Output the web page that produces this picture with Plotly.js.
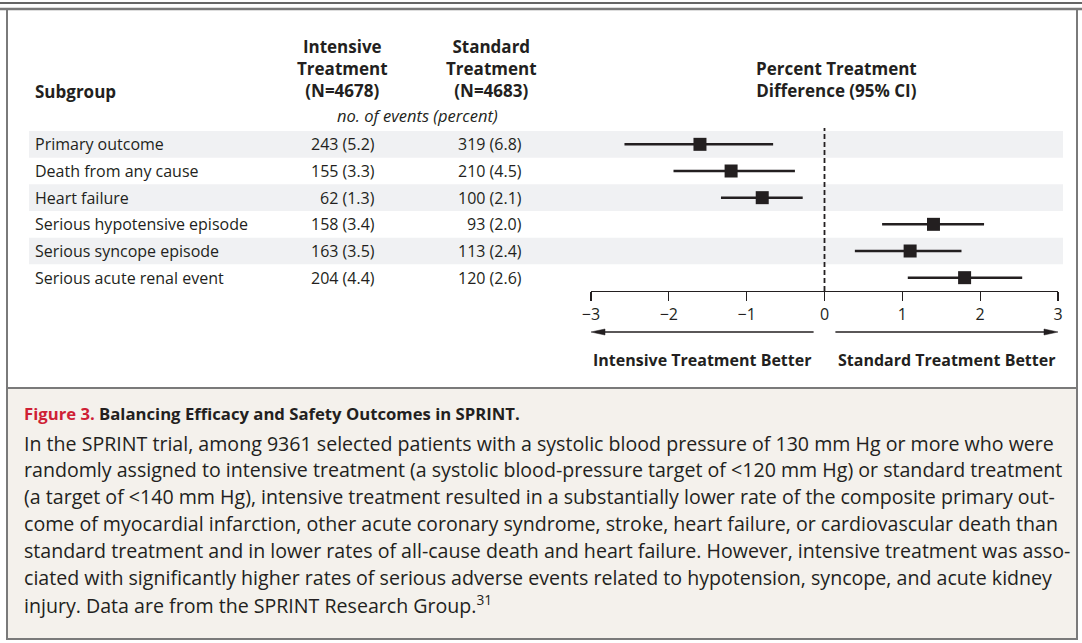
<!DOCTYPE html>
<html>
<head>
<meta charset="utf-8">
<script src="https://cdn.plot.ly/plotly-3.0.1.min.js"></script>
<style>html,body{margin:0;padding:0;background:#fff;}#chart{width:1082px;height:643px;}</style>
</head>
<body>
<div id="chart"></div>
<script>
// ---- data ----
const categories = ["Primary outcome","Death from any cause","Heart failure","Serious hypotensive episode","Serious syncope episode","Serious acute renal event"];
const intensive = ["243 (5.2)","155 (3.3)","62 (1.3)","158 (3.4)","163 (3.5)","204 (4.4)"];
const standard = ["319 (6.8)","210 (4.5)","100 (2.1)","93 (2.0)","113 (2.4)","120 (2.6)"];
const diff = [-1.6, -1.2, -0.8, 1.4, 1.1, 1.8];
const ciLow = [-2.57, -1.94, -1.33, 0.74, 0.39, 1.07];
const ciHigh = [-0.66, -0.38, -0.28, 2.05, 1.76, 2.54];
const tickVals = [-3, -2, -1, 0, 1, 2, 3];
const captionTitle = "Balancing Efficacy and Safety Outcomes in SPRINT.";
const captionLines = [
  "In the SPRINT trial, among 9361 selected patients with a systolic blood pressure of 130 mm Hg or more who were",
  "randomly assigned to intensive treatment (a systolic blood-pressure target of &lt;120 mm Hg) or standard treatment",
  "(a target of &lt;140 mm Hg), intensive treatment resulted in a substantially lower rate of the composite primary out-",
  "come of myocardial infarction, other acute coronary syndrome, stroke, heart failure, or cardiovascular death than",
  "standard treatment and in lower rates of all-cause death and heart failure. However, intensive treatment was asso-",
  "ciated with significantly higher rates of serious adverse events related to hypotension, syncope, and acute kidney",
  "injury. Data are from the SPRINT Research Group.<sup>31</sup>"
];

// ---- layout helpers ----
const W = 1082, H = 643;
const px = v => v / W;
const py = v => 1 - v / H;
const INK = "#231f20";
const FONT = "Open Sans, Noto Sans, sans-serif";
const rows = categories.map((_, i) => i + 1);

const trace = {
  type: "scatter", mode: "markers",
  x: diff, y: rows,
  marker: {symbol: "square", size: 13, color: INK},
  error_x: {
    type: "data", symmetric: false,
    array: diff.map((d, i) => ciHigh[i] - d),
    arrayminus: diff.map((d, i) => d - ciLow[i]),
    width: 0, thickness: 2.5, color: INK
  },
  cliponaxis: false, hoverinfo: "skip", showlegend: false
};

const shapes = [];
// top rules
shapes.push({type:"line", xref:"paper", yref:"paper", x0:0, x1:1, y0:py(3), y1:py(3), line:{color:"#333", width:1.5}, layer:"below"});
// figure box
shapes.push({type:"rect", xref:"paper", yref:"paper", x0:px(7), x1:px(1077), y0:py(388), y1:py(9), fillcolor:"#ffffff", line:{color:"#7a7a7a", width:2}, layer:"below"});
shapes.push({type:"line", xref:"paper", yref:"paper", x0:0, x1:1, y0:py(9), y1:py(9), line:{color:"#7a7a7a", width:2.5}, layer:"below"});
// caption box
shapes.push({type:"rect", xref:"paper", yref:"paper", x0:px(7), x1:px(1077), y0:py(639), y1:py(388), fillcolor:"#f4f1ec", line:{color:"#7a7a7a", width:2}, layer:"below"});
// row bands
rows.forEach(r => {
  if (r % 2 === 1) {
    shapes.push({type:"rect", xref:"paper", yref:"y", x0:px(29), x1:px(1063), y0:r-0.5, y1:r+0.5, fillcolor:"#f0f1f3", line:{width:0}, layer:"below"});
  }
});
// zero line
shapes.push({type:"line", xref:"x", yref:"paper", x0:0, x1:0, y0:py(291), y1:py(128), line:{color:INK, width:1.8, dash:"5px,3px"}});

// direction arrows (shaft + head)
const ARROW_Y = py(332);
shapes.push({type:"line", xref:"x", yref:"paper", x0:-0.14, x1:-2.9, y0:ARROW_Y, y1:ARROW_Y, line:{color:INK, width:1.5}});
shapes.push({type:"line", xref:"x", yref:"paper", x0:0.14, x1:2.9, y0:ARROW_Y, y1:ARROW_Y, line:{color:INK, width:1.5}});
shapes.push({type:"path", xref:"x", yref:"paper", xsizemode:"pixel", ysizemode:"pixel", xanchor:-3, yanchor:ARROW_Y,
  path:"M0,0 L14,3 L14,-3 Z", fillcolor:INK, line:{color:INK, width:0.5}});
shapes.push({type:"path", xref:"x", yref:"paper", xsizemode:"pixel", ysizemode:"pixel", xanchor:3, yanchor:ARROW_Y,
  path:"M0,0 L-14,3 L-14,-3 Z", fillcolor:INK, line:{color:INK, width:0.5}});

const annotations = [];
const ann = (o) => annotations.push(Object.assign({showarrow:false, xref:"paper", yref:"paper", borderpad:0, font:{family:FONT, size:16, color:INK}}, o));

// headers
ann({x:px(34), y:py(91), xanchor:"left", yanchor:"middle", text:"<b>Subgroup</b>", font:{family:FONT, size:17, color:INK}});
ann({x:px(342), y:py(68), xanchor:"center", yanchor:"middle", text:"<b>Intensive<br>Treatment<br>(N=4678)</b>", font:{family:FONT, size:17, color:INK}});
ann({x:px(491), y:py(68), xanchor:"center", yanchor:"middle", text:"<b>Standard<br>Treatment<br>(N=4683)</b>", font:{family:FONT, size:17, color:INK}});
ann({x:px(836), y:py(79), xanchor:"center", yanchor:"middle", text:"<b>Percent Treatment<br>Difference (95% CI)</b>", font:{family:FONT, size:17, color:INK}});
ann({x:px(417), y:py(116), xanchor:"center", yanchor:"middle", text:"<i>no. of events (percent)</i>", font:{family:FONT, size:16.5, color:INK}});

// rows
categories.forEach((c, i) => {
  ann({x:px(34), y:rows[i], yref:"y", xanchor:"left", yanchor:"middle", text:c});
  ann({x:px(376), y:rows[i], yref:"y", xanchor:"right", yanchor:"middle", text:intensive[i]});
  ann({x:px(523), y:rows[i], yref:"y", xanchor:"right", yanchor:"middle", text:standard[i]});
});

ann({x:px(702), y:py(360), xanchor:"center", yanchor:"middle", text:"<b>Intensive Treatment Better</b>", font:{family:FONT, size:16, color:INK}});
ann({x:px(946.5), y:py(360), xanchor:"center", yanchor:"middle", text:"<b>Standard Treatment Better</b>", font:{family:FONT, size:16, color:INK}});

// caption
ann({x:px(23), y:py(413), xanchor:"left", yanchor:"middle", text:"<b><span style='color:#cf1f35'>Figure 3.</span> " + captionTitle + "</b>", font:{family:FONT, size:16.7, color:INK}});
captionLines.forEach((t, i) => {
  ann({x:px(23), y:py(443 + i * 26.9), xanchor:"left", yanchor:"middle", text:t, font:{family:FONT, size:19.6, color:INK}});
});

const layout = {
  width: W, height: H,
  margin: {l:0, r:0, t:0, b:0},
  paper_bgcolor: "#ffffff", plot_bgcolor: "rgba(0,0,0,0)",
  font: {family: FONT, color: INK},
  xaxis: {
    domain: [px(591), px(1058)], range: [-3, 3],
    showline: true, linecolor: INK, linewidth: 1.2,
    ticks: "outside", ticklen: 9, tickwidth: 1.2, tickcolor: INK,
    tickvals: tickVals, showgrid: false, zeroline: false,
    tickfont: {family: FONT, size: 16, color: INK}, fixedrange: true
  },
  yaxis: {
    domain: [py(291), py(131)], range: [6.5, 0.5],
    visible: false, fixedrange: true
  },
  shapes: shapes,
  annotations: annotations,
  showlegend: false
};

Plotly.newPlot("chart", [trace], layout, {displayModeBar: false, staticPlot: true});
</script>
</body>
</html>
